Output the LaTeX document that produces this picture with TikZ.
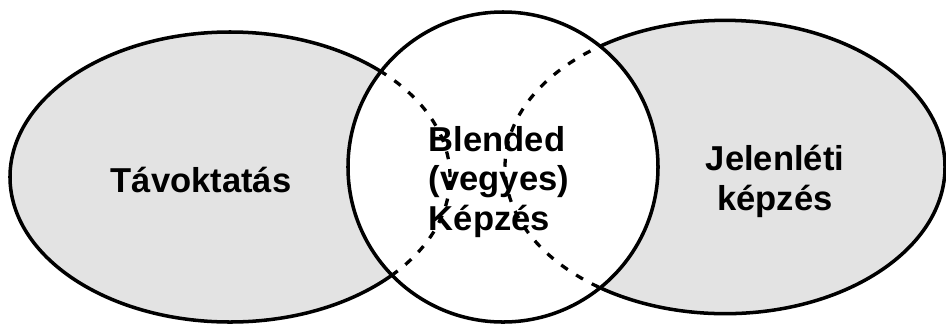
\documentclass[tikz,border=0pt]{standalone}
\usepackage{fontspec}
\setmainfont{Liberation Sans}
\usetikzlibrary{shapes.geometric}

\begin{document}
\begin{tikzpicture}[x=0.03cm, y=-0.03cm,
	set_node/.style={ellipse,draw,line width=3pt,fill=gray!22,inner sep=0pt},
	mix_node/.style={circle,draw,line width=3pt,fill=white,inner sep=0pt,minimum size=9.3cm},
	text_node/.style={font=\bfseries\fontsize{29.5}{34}\selectfont},
	hidden_line/.style={line width=2.8pt,dash pattern=on 6.8pt off 8.5pt}]
				\useasboundingbox (0,0) rectangle (946,324);
				\node[set_node, minimum width=13.2cm, minimum height=8.7cm](tav) at (230,177){};
				\node[set_node, minimum width=13.2cm, minimum height=8.8cm](jel) at (725,167){};
				\node[mix_node](blend) at (503,167){};
				\node[text_node](tavtext) at (201,180){Távoktatás};
				\node[text_node, align=center](jeltext) at (775,181){Jelenléti\\képzés};
				\node[text_node, align=left](blendtext) at (499,182){Blended\\(vegyes)\\Képzés};
				\begin{scope}
					\clip (blend.center) circle (4.6cm);
					\draw[hidden_line] (tav.center) ellipse (6.6cm and 4.35cm);
					\draw[hidden_line] (jel.center) ellipse (6.6cm and 4.4cm);
				\end{scope}
			\end{tikzpicture}
\end{document}
